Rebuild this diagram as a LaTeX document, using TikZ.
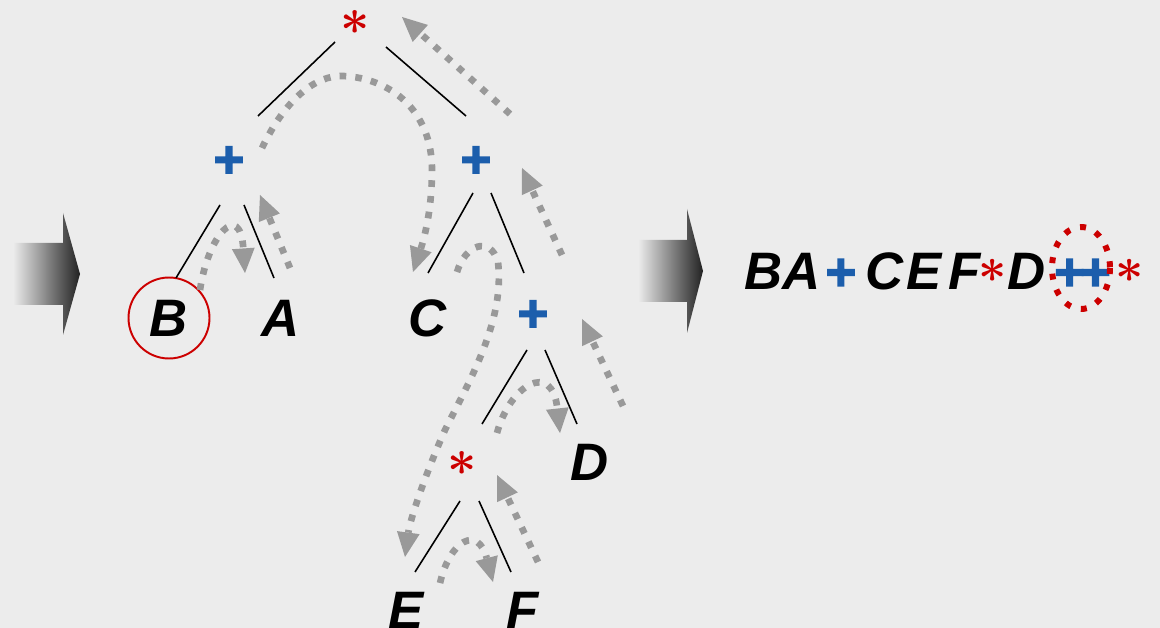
\RequirePackage{fix-cm}
\documentclass[tikz,border=0pt]{standalone}
\usepackage{fontspec}
\setmainfont{Liberation Sans}
\newfontfamily\opfont{Liberation Sans Bold}[FakeBold=2.5]
\usetikzlibrary{arrows.meta}

\definecolor{bggray}{RGB}{236,236,236}
\definecolor{opblue}{RGB}{28,94,172}
\definecolor{opred}{RGB}{204,0,0}
\definecolor{walkgray}{RGB}{153,153,153}
\definecolor{arrowdark}{RGB}{34,34,34}

\newcommand{\plusop}{\textcolor{opblue}{\opfont+}}
\newcommand{\starop}{\raisebox{4pt}{\textcolor{opred}{\fontsize{28}{28}\selectfont\boldmath$\ast$}}}

\begin{document}
\begin{tikzpicture}[
    x=0.02cm,
    y=-0.02cm,
    leaf/.style={font=\fontsize{30}{36}\selectfont\bfseries\itshape, inner sep=0pt},
    plusnode/.style={font=\fontsize{30}{36}\selectfont\opfont, text=opblue, inner sep=0pt},
    starnode/.style={font=\fontsize{29}{29}\selectfont\boldmath, text=opred, inner sep=0pt},
    edge/.style={line width=0.9pt},
    walk/.style={draw=walkgray, line width=3.8pt, dash pattern=on 3.8pt off 5.2pt,
        -{Triangle[length=14pt,width=13pt,line width=0pt]}},
    ring/.style={draw=opred, line width=3.4pt, dash pattern=on 3.4pt off 6pt},
    bigarrow/.style={left color=bggray, right color=arrowdark}
]
\fill[bggray] (0,0) rectangle (1160,628);
\useasboundingbox (0,0) rectangle (1160,628);

% block arrows
\shade[bigarrow] (13,243) -- (63,243) -- (63,213) -- (80,274) -- (63,335) -- (63,305) -- (13,305) -- cycle;
\shade[bigarrow] (638,240) -- (687,240) -- (687,209) -- (703,271) -- (687,333) -- (687,302) -- (638,302) -- cycle;

% tree
\node[starnode] (root) at (355,22) {$\ast$};
\node[plusnode] (lp) at (229,162) {+};
\node[plusnode] (rp) at (476,162) {+};
\node[leaf, circle, draw=opred, line width=1.1pt, minimum size=1.62cm] (B) at (169,318) {B};
\node[leaf] (A) at (281,318) {A};
\node[leaf] (C) at (428,318) {C};
\node[plusnode] (mp) at (533,316) {+};
\node[starnode] (ms) at (462,463) {$\ast$};
\node[leaf] (D) at (590,462) {D};
\node[leaf] (E) at (406,610) {E};
\node[leaf] (F) at (523,610) {F};

\draw[edge] ([shift={(-20,20)}]root.center) -- ([shift={(29,-46)}]lp.center);
\draw[edge] ([shift={(31,25)}]root.center) -- ([shift={(-10,-46)}]rp.center);
\draw[edge] ([shift={(-9,43)}]lp.center) -- ([shift={(7,-40)}]B.center);
\draw[edge] ([shift={(15,43)}]lp.center) -- ([shift={(-7,-40)}]A.center);
\draw[edge] ([shift={(-3,31)}]rp.center) -- ([shift={(0,-45)}]C.center);
\draw[edge] ([shift={(15,31)}]rp.center) -- ([shift={(-9,-43)}]mp.center);
\draw[edge] ([shift={(-6,34)}]mp.center) -- ([shift={(20,-39)}]ms.center);
\draw[edge] ([shift={(12,34)}]mp.center) -- ([shift={(-13,-38)}]D.center);
\draw[edge] ([shift={(-2,38)}]ms.center) -- ([shift={(9,-38)}]E.center);
\draw[edge] ([shift={(17,38)}]ms.center) -- ([shift={(-12,-38)}]F.center);

% postorder walk
\draw[walk] ([shift={(31,-28)}]B.center) .. controls (208,235) and (240,200) .. ([shift={(-36,-45)}]A.center);
\draw[walk] ([shift={(9,-50)}]A.center) -- ([shift={(31,33)}]lp.center);
\draw[walk] ([shift={(33,-14)}]lp.center) .. controls (285,100) and (315,75) .. (343,76)
    .. controls (390,78) and (432,110) .. (432,170)
    .. controls (432,215) and (422,245) .. ([shift={(-15,-46)}]C.center);
\draw[walk] ([shift={(29,-46)}]C.center) .. controls (465,245) and (490,235) .. (498,262)
    .. controls (505,320) and (470,380) .. (445,430)
    .. controls (425,475) and (410,520) .. ([shift={(-1,-53)}]E.center);
\draw[walk] ([shift={(34,-27)}]E.center) .. controls (450,540) and (478,525) .. ([shift={(-30,-28)}]F.center);
\draw[walk] ([shift={(15,-48)}]F.center) -- ([shift={(35,12)}]ms.center);
\draw[walk] ([shift={(35,-30)}]ms.center) .. controls (510,385) and (552,360) .. ([shift={(-30,-29)}]D.center);
\draw[walk] ([shift={(33,-56)}]D.center) -- ([shift={(49,3)}]mp.center);
\draw[walk] ([shift={(29,-61)}]mp.center) -- ([shift={(46,6)}]rp.center);
\draw[walk] ([shift={(34,-48)}]rp.center) -- ([shift={(47,-5)}]root.center);

% postfix result
\node[leaf, anchor=base west] (postfix) at (744,290)
    {BA\kern2.3pt\plusop\kern5.7pt C\kern1.7pt E\kern4pt F\kern-1pt\starop\kern0pt D\kern4.5pt\plusop\kern-2.8pt\plusop\kern3pt\starop};
\draw[ring] (1081,268) ellipse [x radius=29, y radius=41];
\end{tikzpicture}
\end{document}
